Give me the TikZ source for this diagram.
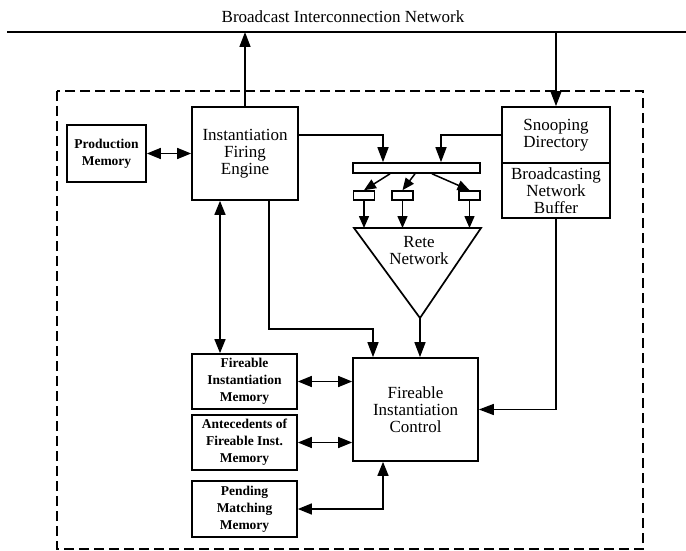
\documentclass[tikz,border=0pt]{standalone}
\usepackage{fontspec}
\setmainfont{Liberation Serif}
\usetikzlibrary{arrows.meta,calc}
\begin{document}
\begin{tikzpicture}[x=1pt,y=-1pt,
  box/.style={draw, line width=1.7pt, inner sep=0pt, align=center, font=\fontsize{17}{17}\selectfont},
  sbox/.style={box, font=\fontsize{13.5}{17}\selectfont\bfseries},
  tiny/.style={draw, line width=1.6pt, inner sep=0pt, minimum width=21pt, minimum height=9pt},
  arr/.style={line width=1.5pt, -{Triangle[length=15pt,width=11pt]}},
  sarr/.style={line width=1.5pt, -{Triangle[length=12pt,width=10pt]}},
  darr/.style={line width=1.5pt, {Triangle[length=14pt,width=11pt]}-{Triangle[length=14pt,width=11pt]}},
  ]
\useasboundingbox (0,0) rectangle (686,551);
\node[font=\fontsize{17}{17}\selectfont] (title) at (343,17) {Broadcast Interconnection Network};
\coordinate (busL) at (7,32);
\coordinate (busR) at (686,32);
\draw[line width=1.7pt] (busL) -- (busR);
\draw[line width=1.8pt, dash pattern=on 10pt off 5pt] (57,91) rectangle (643,549);

\node[sbox, minimum width=79pt, minimum height=57pt] (PM) at (106.5,153.5) {Production\\Memory};
\node[box, minimum width=106pt, minimum height=93pt] (IFE) at (245,153.5) {Instantiation\\Firing\\Engine};
\node[box, minimum width=108pt, minimum height=56pt] (SD) at (556,135) {Snooping\\Directory};
\node[box, minimum width=108pt, minimum height=55pt] (BNB) at (556,190.5) {Broadcasting\\Network\\Buffer};
\node[draw, line width=1.6pt, minimum width=127pt, minimum height=10pt, inner sep=0pt] (bar) at (416.5,168) {};
\node[tiny] (b1) at (364,195.5) {};
\node[tiny] (b2) at (402.5,195.5) {};
\node[tiny] (b3) at (469.5,195.5) {};
\draw[line width=1.7pt] (354,228) coordinate (triL) -- (481,228) coordinate (triR) -- (420,318) coordinate (apex) -- cycle;
\node[align=center, font=\fontsize{17}{17}\selectfont] (rete) at (419,251) {Rete\\Network};

\node[box, minimum width=125pt, minimum height=103pt] (FIC) at (415.5,409.5) {Fireable\\Instantiation\\Control};
\node[sbox, minimum width=105pt, minimum height=55pt] (FIM) at (244.5,381.5) {Fireable\\Instantiation\\Memory};
\node[sbox, minimum width=105pt, minimum height=55pt] (AFI) at (244.5,442.5) {Antecedents of\\Fireable Inst.\\Memory};
\node[sbox, minimum width=105pt, minimum height=56pt] (PMM) at (244.5,509) {Pending\\Matching\\Memory};

\draw[arr] (IFE.north) -- (IFE.north |- busL);
\draw[arr] (busL -| SD.north) -- (SD.north);
\draw[darr] (PM.east) -- (PM.east -| IFE.west);
\draw[arr] (IFE.east |- SD.west) -| ([xshift=-33.5pt]bar.north);
\draw[arr] (SD.west) -| ([xshift=24.5pt]bar.north);
\draw[sarr] ([xshift=-26.5pt]bar.south) -- (b1.north);
\draw[sarr] ([xshift=-1.5pt]bar.south) -- (b2.north);
\draw[sarr] ([xshift=15.5pt]bar.south) -- (b3.north);
\draw[sarr] (b1.south) -- (b1.south |- triL);
\draw[sarr] (b2.south) -- (b2.south |- triL);
\draw[sarr] (b3.south) -- (b3.south |- triL);
\draw[arr] (apex) -- (apex |- FIC.north);
\draw[arr] ([xshift=24pt]IFE.south) |- ([xshift=-42.5pt,yshift=28pt]FIC.north) -- ([xshift=-42.5pt]FIC.north);
\draw[darr] ([xshift=-25pt]IFE.south) -- ([xshift=-24.5pt]FIM.north);
\draw[darr] (FIM.east) -- (FIM.east -| FIC.west);
\draw[darr] (AFI.east) -- (AFI.east -| FIC.west);
\draw[darr] (PMM.east) -| ([xshift=-32.5pt]FIC.south);
\draw[arr] (BNB.south) |- (FIC.east);
\end{tikzpicture}
\end{document}
